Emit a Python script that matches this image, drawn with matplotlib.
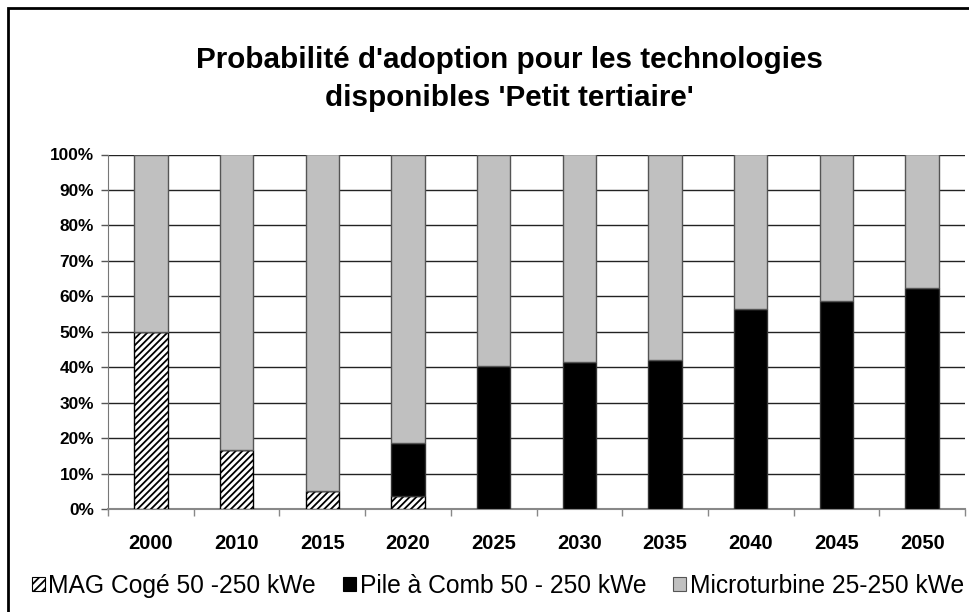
import numpy as np
import matplotlib
matplotlib.use('Agg')
import matplotlib.pyplot as plt
from matplotlib.patches import Patch, Rectangle

years = ['2000', '2010', '2015', '2020', '2025', '2030', '2035', '2040', '2045', '2050']
mag_coge = [50.0, 16.7, 5.2, 3.7, 0, 0, 0, 0, 0, 0]
pile_comb = [0, 0, 0, 14.9, 40.3, 41.4, 42.1, 56.3, 58.7, 62.4]
microturbine = [100 - a - b for a, b in zip(mag_coge, pile_comb)]

series_names = ['MAG Cogé 50 -250 kWe', 'Pile à Comb 50 - 250 kWe', 'Microturbine 25-250 kWe']

plt.rcParams['font.family'] = ['Liberation Sans', 'DejaVu Sans']
plt.rcParams['hatch.linewidth'] = 1.3

W, H = 969, 612
fig = plt.figure(figsize=(W / 100, H / 100), dpi=100)
ax = fig.add_axes([108 / W, 103 / H, 857 / W, 354.5 / H])

x = np.arange(len(years))
bw = 0.39
ax.bar(x, mag_coge, bw, color='white', edgecolor='black', hatch='/////', linewidth=1, zorder=3)
ax.bar(x, pile_comb, bw, bottom=mag_coge, color='black', edgecolor='#333333', linewidth=1, zorder=3)
bot2 = np.array(mag_coge) + np.array(pile_comb)
ax.bar(x, microturbine, bw, bottom=bot2, color='#c0c0c0', edgecolor='#555555', linewidth=1, zorder=3)

ax.set_xlim(-0.5, len(years) - 0.5)
ax.set_ylim(0, 100)
ax.set_yticks(np.arange(0, 101, 10))
ax.set_yticklabels([f'{v}%' for v in range(0, 101, 10)], fontweight='bold', fontsize=12.4)
ax.grid(axis='y', color='#222222', linewidth=1, zorder=0)
ax.set_axisbelow(True)

ax.set_xticks(x)
ax.set_xticklabels(years, fontweight='bold', fontsize=14.5)
ax.set_xticks(np.arange(-0.5, len(years), 1), minor=True)
ax.tick_params(axis='x', which='major', length=0, pad=18)
ax.tick_params(axis='x', which='minor', length=5, color='#888888', width=1)
ax.tick_params(axis='y', length=5, color='#555555', width=1, pad=5)

for s in ['top', 'right']:
    ax.spines[s].set_visible(False)
ax.spines['bottom'].set_color('#888888')
ax.spines['bottom'].set_linewidth(1.5)
ax.spines['left'].set_color('#777777')

fig.text(509 / W, 1 - 79 / H,
         "Probabilité d'adoption pour les technologies\ndisponibles 'Petit tertiaire'",
         ha='center', va='center', fontsize=21.3, fontweight='bold', linespacing=1.45)

handles = [
    Patch(facecolor='white', edgecolor='black', hatch='////', linewidth=0.8),
    Patch(facecolor='black', edgecolor='black', linewidth=0.8),
    Patch(facecolor='#c0c0c0', edgecolor='#555555', linewidth=0.8),
]
fig.legend(handles, series_names, loc='center left', bbox_to_anchor=(32 / W, 26 / H), ncol=3,
           frameon=False, fontsize=17.7, handlelength=0.52, handleheight=0.52,
           handletextpad=0.15, columnspacing=1.1, borderpad=0, borderaxespad=0)

fig.patches.append(Rectangle((8 / W, -0.1), 1.2, 1.1 - 8 / H, transform=fig.transFigure,
                             fill=False, edgecolor='black', linewidth=2))

fig.savefig('out.png', dpi=100)
